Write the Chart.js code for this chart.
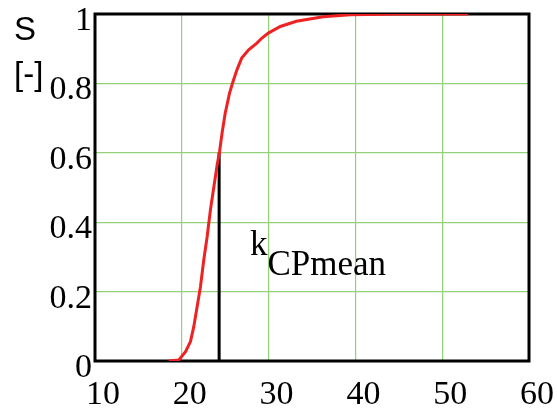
<!DOCTYPE html>
<html>
<head>
<meta charset="utf-8">
<script src="https://cdn.jsdelivr.net/npm/chart.js@4"></script>
<style>
  html, body { margin: 0; padding: 0; background: #fff; }
  #wrap { width: 557px; height: 410px; }
</style>
</head>
<body>
<div id="wrap"><canvas id="c" width="557" height="410"></canvas></div>
<script>
// ---- data ----
const curveX = [18.5, 19.66, 20.43, 21.0, 21.38, 21.77, 22.15, 22.53, 22.92, 23.3, 23.7, 24.07, 24.35, 24.64, 25.0, 25.5, 25.85, 26.35, 26.9, 27.7, 28.65, 29.2, 29.97, 31.35, 33.2, 36.3, 39.4, 45.0, 53.0];
const curveY = [0, 0.003, 0.027, 0.056, 0.099, 0.157, 0.214, 0.291, 0.358, 0.436, 0.503, 0.565, 0.604, 0.657, 0.714, 0.772, 0.801, 0.839, 0.873, 0.897, 0.916, 0.930, 0.945, 0.964, 0.979, 0.992, 0.998, 1.0, 1.0];
const kMeanX = [24.3, 24.3];
const kMeanY = [0, 0.6];
const xTicks = [10, 20, 30, 40, 50, 60];
const yTicks = [0, 0.2, 0.4, 0.6, 0.8, 1];
const yTickLabels = ['0', '0.2', '0.4', '0.6', '0.8', '1'];
const kLabelPos = [27.85, 0.306];

const serif = '"Liberation Serif", "Times New Roman", serif';
const sans = '"Liberation Sans", Arial, sans-serif';

const frame = {
  id: 'frame',
  beforeDatasetsDraw(chart) {
    const { ctx, chartArea: a } = chart;
    ctx.save();
    ctx.strokeStyle = '#000';
    ctx.lineWidth = 3;
    ctx.strokeRect(a.left, a.top, a.right - a.left, a.bottom - a.top);
    ctx.restore();
  },
  afterDraw(chart) {
    const { ctx } = chart;
    const xs = chart.scales.x, ys = chart.scales.y;
    ctx.save();
    ctx.fillStyle = '#000';
    ctx.textBaseline = 'alphabetic';
    ctx.textAlign = 'left';
    ctx.font = '33px ' + sans;
    ctx.fillText('S', 14, 40);
    ctx.fillText('[-]', 14, 85);
    const px = xs.getPixelForValue(kLabelPos[0]);
    const py = ys.getPixelForValue(kLabelPos[1]);
    ctx.font = '35px ' + serif;
    ctx.fillText('k', px, py);
    const w = ctx.measureText('k').width;
    ctx.fillText('CPmean', px + w, py + 20);
    ctx.restore();
  }
};

new Chart(document.getElementById('c'), {
  type: 'line',
  data: {
    datasets: [
      {
        data: curveX.map((x, i) => ({ x, y: curveY[i] })),
        borderColor: '#ee2222',
        borderWidth: 3,
        pointRadius: 0,
        tension: 0,
        fill: false,
        order: 1
      },
      {
        data: kMeanX.map((x, i) => ({ x, y: kMeanY[i] })),
        borderColor: '#000',
        borderWidth: 3,
        pointRadius: 0,
        fill: false,
        order: 2
      }
    ]
  },
  options: {
    responsive: false,
    animation: false,
    devicePixelRatio: 1,
    layout: { padding: { left: 0, right: 28, top: 14, bottom: 0 } },
    plugins: { legend: { display: false }, tooltip: { enabled: false } },
    scales: {
      x: {
        type: 'linear',
        min: 10, max: 60,
        afterBuildTicks(s) { s.ticks = xTicks.map(v => ({ value: v })); },
        afterFit(s) { s.height = 49; s.paddingLeft = 0; s.paddingRight = 0; },
        grid: { color: '#93d077', lineWidth: 1.2, drawTicks: false },
        border: { display: false },
        ticks: {
          font: { family: serif, size: 34 },
          color: '#000',
          padding: 14,
          labelOffset: 8,
          maxRotation: 0,
          autoSkip: false
        }
      },
      y: {
        type: 'linear',
        min: 0, max: 1,
        afterBuildTicks(s) { s.ticks = yTicks.map(v => ({ value: v })); },
        afterFit(s) { s.width = 95; s.paddingTop = 0; s.paddingBottom = 0; },
        grid: { color: '#93d077', lineWidth: 1.2, drawTicks: false },
        border: { display: false },
        ticks: {
          font: { family: serif, size: 34 },
          color: '#000',
          padding: 3,
          labelOffset: 7,
          autoSkip: false,
          callback: (v) => yTickLabels[yTicks.indexOf(v)] ?? ''
        }
      }
    }
  },
  plugins: [frame]
});
</script>
</body>
</html>
